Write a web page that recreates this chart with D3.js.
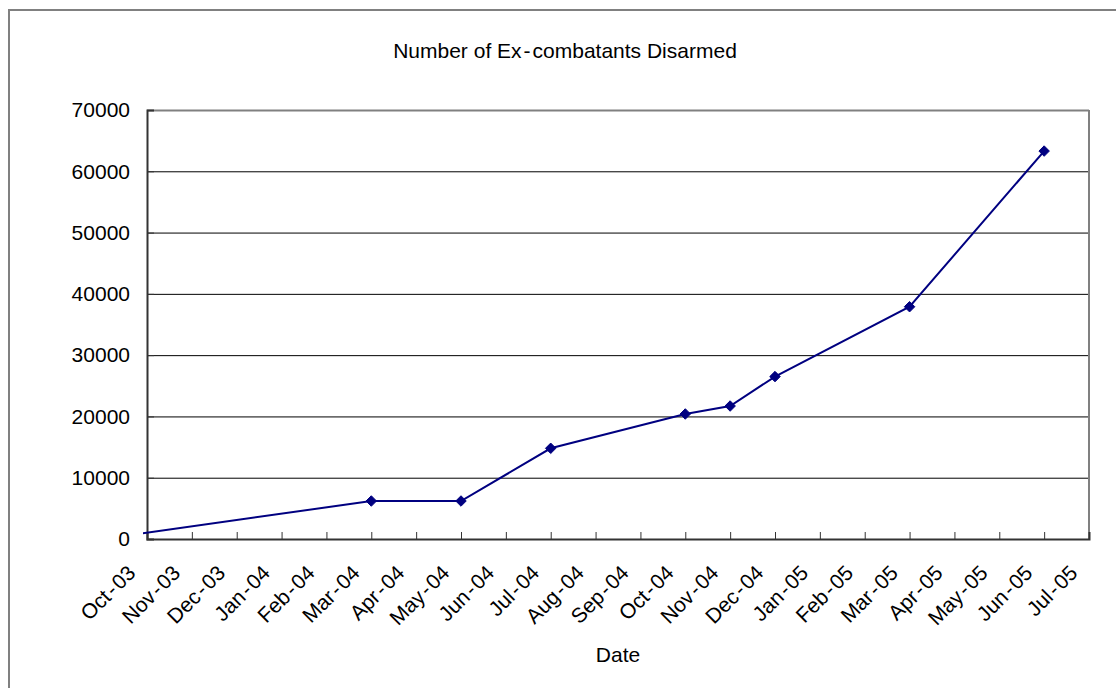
<!DOCTYPE html>
<html><head><meta charset="utf-8">
<script src="https://cdn.jsdelivr.net/npm/d3@7"></script>
<style>
body{margin:0;background:#fff}
svg{display:block}
text{font-family:"Liberation Sans",Arial,sans-serif;fill:#000}
</style>
</head><body><svg id="c" width="1116" height="688"></svg>
<script>
const chartTitle = "Number of Ex-combatants Disarmed";
const xTitle = "Date";
const monthLabels = ["Oct-03","Nov-03","Dec-03","Jan-04","Feb-04","Mar-04","Apr-04","May-04","Jun-04","Jul-04","Aug-04","Sep-04","Oct-04","Nov-04","Dec-04","Jan-05","Feb-05","Mar-05","Apr-05","May-05","Jun-05","Jul-05"];
const pointMonths = ["Sep-03","Mar-04","May-04","Jul-04","Oct-04","Nov-04","Dec-04","Mar-05","Jun-05"];
const disarmed = [0,6200,6200,14800,20400,21700,26500,37900,63300];
const yTicks = [0,10000,20000,30000,40000,50000,60000,70000];

const FONT = '"Liberation Sans",Arial,sans-serif';
const svg = d3.select("#c");
const L = 147, T = 110, R = 1089, B = 539;
const W = R - L, H = B - T;

// writes text with a slightly spaced hyphen (like the reference's wide hyphen)
function hyphenText(sel, str) {
  sel.text(null);
  const parts = str.split("-");
  parts.forEach((p, k) => {
    if (k > 0) sel.append("tspan").attr("dx", 2).text("-");
    sel.append("tspan").attr("dx", k > 0 ? 2 : 0).text(p);
  });
}

// outer chart border
svg.append("rect").attr("x",9).attr("y",10).attr("width",1130).attr("height",700)
  .attr("fill","#fff").attr("stroke","#808080").attr("stroke-width",2);

const parse = d3.timeParse("%b-%y");
const start = parse(monthLabels[0]);
const idx = s => d3.timeMonth.count(start, parse(s));

const x = d3.scaleLinear().domain([0, monthLabels.length - 1]).range([0, W]);
const y = d3.scaleLinear().domain([0, 70000]).range([H, 0]);

const g = svg.append("g").attr("transform", `translate(${L},${T})`);

// gridlines
g.append("g")
  .call(d3.axisLeft(y).tickValues(yTicks.slice(1)).tickSize(-W).tickFormat(""))
  .call(s => s.select(".domain").remove())
  .call(s => s.selectAll("line").attr("stroke","#000").attr("stroke-width",1)
        .filter(d => d === 70000).attr("stroke","#808080").attr("stroke-width",2));

// right border of plot area
g.append("line").attr("x1",W).attr("x2",W).attr("y1",0).attr("y2",H)
  .attr("stroke","#808080").attr("stroke-width",2);

// y axis
const yAx = g.append("g")
  .call(d3.axisLeft(y).tickValues(yTicks).tickSize(-7).tickPadding(17).tickFormat(d3.format("d")));
yAx.select(".domain").attr("stroke","#333").attr("stroke-width",2);
yAx.selectAll("line").attr("stroke","#333");
yAx.selectAll("text").attr("font-size",21).style("font-family",FONT);

// x axis
const xAx = g.append("g").attr("transform",`translate(0,${H})`)
  .call(d3.axisBottom(x).tickValues(d3.range(monthLabels.length)).tickSize(-7)
        .tickFormat(i => monthLabels[i]));
xAx.select(".domain").attr("stroke","#333").attr("stroke-width",2);
xAx.selectAll("line").attr("stroke","#333");
xAx.selectAll("text").attr("font-size",21).style("font-family",FONT)
  .attr("text-anchor","end").attr("x",0).attr("y",0).attr("dy","0.35em")
  .attr("transform","translate(-16,30) rotate(-45)")
  .each(function(i){ hyphenText(d3.select(this), monthLabels[i]); });

// clip for line
svg.append("clipPath").attr("id","clip").append("rect")
  .attr("x",-4).attr("y",-5).attr("width",W+4).attr("height",H+5);

const pts = pointMonths.map((m,i) => ({i: idx(m), v: disarmed[i]}));
g.append("path").datum(pts).attr("clip-path","url(#clip)")
  .attr("fill","none").attr("stroke","#000080").attr("stroke-width",2)
  .attr("d", d3.line().x(d => x(d.i)).y(d => y(d.v)));

g.selectAll(".mk").data(pts.filter(d => d.i >= 0)).join("path")
  .attr("transform", d => `translate(${x(d.i)},${y(d.v)})`)
  .attr("d", d3.symbol(d3.symbolDiamond2, 70))
  .attr("fill","#000080").attr("stroke","#000080").attr("stroke-width",1);

// titles
svg.append("text").attr("x",565).attr("y",58).attr("text-anchor","middle")
  .attr("font-size",21).call(s => hyphenText(s, chartTitle));
svg.append("text").attr("x",(L+R)/2).attr("y",662).attr("text-anchor","middle")
  .attr("font-size",21).text(xTitle);
</script>
</body></html>
